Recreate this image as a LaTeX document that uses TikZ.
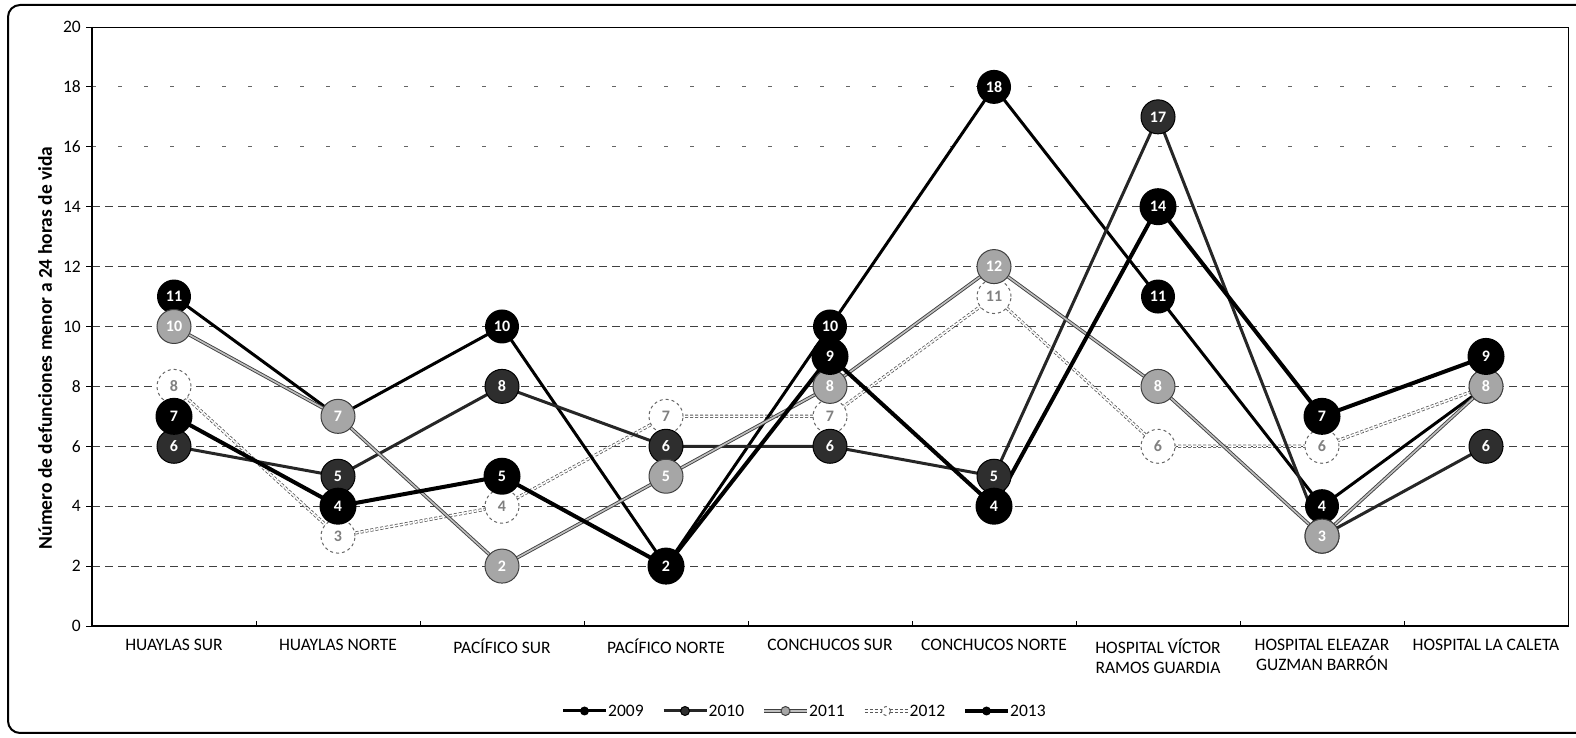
\documentclass[tikz,border=0pt]{standalone}
\usepackage{fontspec}
\setmainfont{Carlito}
\usetikzlibrary{positioning}

\newcommand{\txtsize}{\fontsize{17.5}{20}\selectfont}
% year / values per establishment (markers are drawn in this order)
\def\series{2012/{8,3,4,7,7,11,6,6,8},2009/{11,7,10,2,10,18,11,4,8},2010/{6,5,8,6,6,5,17,3,6},2011/{10,7,2,5,8,12,8,3,8},2013/{7,4,5,2,9,4,14,7,9}}

\begin{document}
\begin{tikzpicture}[x=1pt,y=1pt]
    \tikzstyle{grid} = [black!75,line width=1pt,dash pattern=on 8pt off 5pt]
    \tikzstyle{faintgrid} = [black!60,line width=0.8pt,dash pattern=on 4pt off 22pt]
    \tikzstyle{cat} = [anchor=north,align=center,inner sep=0pt,font=\txtsize]
    \tikzstyle{bub} = [circle,inner sep=0pt,minimum size=34pt,font=\bfseries\fontsize{16}{16}\selectfont]
    \tikzstyle{bub2009} = [bub,fill=black,text=white]
    \tikzstyle{bub2010} = [bub,fill=black!82,draw=black,line width=1pt,text=white]
    \tikzstyle{bub2011} = [bub,fill=black!35,draw=black!75,line width=1pt,text=white]
    \tikzstyle{bub2012} = [bub,fill=white,draw=black!60,dashed,line width=1pt,text=black!50]
    \tikzstyle{bub2013} = [bub,fill=black,text=white,minimum size=37pt]
    \tikzstyle{line2009} = [black,line width=3pt,line join=round]
    \tikzstyle{line2010} = [black!85,line width=3pt,line join=round]
    \tikzstyle{line2011} = [black!75,line width=0.9pt,double=black!25,double distance=1.6pt,line join=round]
    \tikzstyle{line2012} = [black!65,line width=0.8pt,double=white,double distance=1.6pt,densely dashed,line join=round]
    \tikzstyle{line2013} = [black,line width=4pt,line join=round]

    \useasboundingbox (0,0) rectangle (1576,738);
    \draw[line width=2pt] (1576,733) -- (20,733) arc[start angle=90,end angle=180,radius=12]
      -- (8,17) arc[start angle=180,end angle=270,radius=12] -- (1576,5);

    \foreach \v in {2,4,...,14}
      \draw[grid] (92,{112+29.95*\v}) -- (1568,{112+29.95*\v});
    \foreach \v in {16,18}
      \draw[faintgrid] (92,{112+29.95*\v}) -- (1568,{112+29.95*\v});
    \draw[line width=0.8pt] (92,112) rectangle (1568,711);
    \draw[line width=1.6pt] (92,711) -- (92,112) -- (1568,112);
    \foreach \v in {0,2,...,20} {
      \draw[line width=0.8pt] (86,{112+29.95*\v}) -- (92,{112+29.95*\v});
      \node[anchor=east,inner sep=0pt,font=\txtsize] (tick\v) at (81,{112+29.95*\v}) {\v};
    }
    \foreach \k in {1,...,8}
      \draw[line width=0.8pt] ({92+164*\k},112) -- ({92+164*\k},117);

    \foreach \lbl [count=\i] in {HUAYLAS SUR,HUAYLAS NORTE,PACÍFICO SUR,PACÍFICO NORTE,CONCHUCOS SUR,CONCHUCOS NORTE,{HOSPITAL VÍCTOR\\RAMOS GUARDIA},{HOSPITAL ELEAZAR\\GUZMAN BARRÓN},HOSPITAL LA CALETA}
      \node[cat] (cat\i) at ({92+164*(\i-0.5)},99) {\lbl};

    \node[rotate=90,font=\bfseries\fontsize{19.5}{19.5}\selectfont] (ytitle) at (45,390) {Número de defunciones menor a 24 horas de vida};

    % points, lines, then markers
    \foreach \yr/\vals in \series
      \foreach \v [count=\i] in \vals
        \coordinate (p\yr-\i) at ({92+164*(\i-0.5)},{112+29.95*\v});
    \foreach \yr/\vals in \series
      \draw[line\yr] (p\yr-1) \foreach \i in {2,...,9} {-- (p\yr-\i)};
    \foreach \yr/\vals in \series
      \foreach \v [count=\i] in \vals
        \node[bub\yr] (m\yr-\i) at (p\yr-\i) {\v};

    % legend
    \foreach \yr [count=\j from 0] in {2009,...,2013} {
      \coordinate (la\yr) at ({563+100.5*\j},27);
      \coordinate (lb\yr) at ({606+100.5*\j},27);
      \draw[line\yr] (la\yr) -- (lb\yr);
      \node[bub\yr,minimum size=9pt] (lm\yr) at ({584.5+100.5*\j},27) {};
      \node[right=2pt of lb\yr,inner sep=0pt,font=\txtsize] (lt\yr) {\yr};
    }
\end{tikzpicture}
\end{document}
